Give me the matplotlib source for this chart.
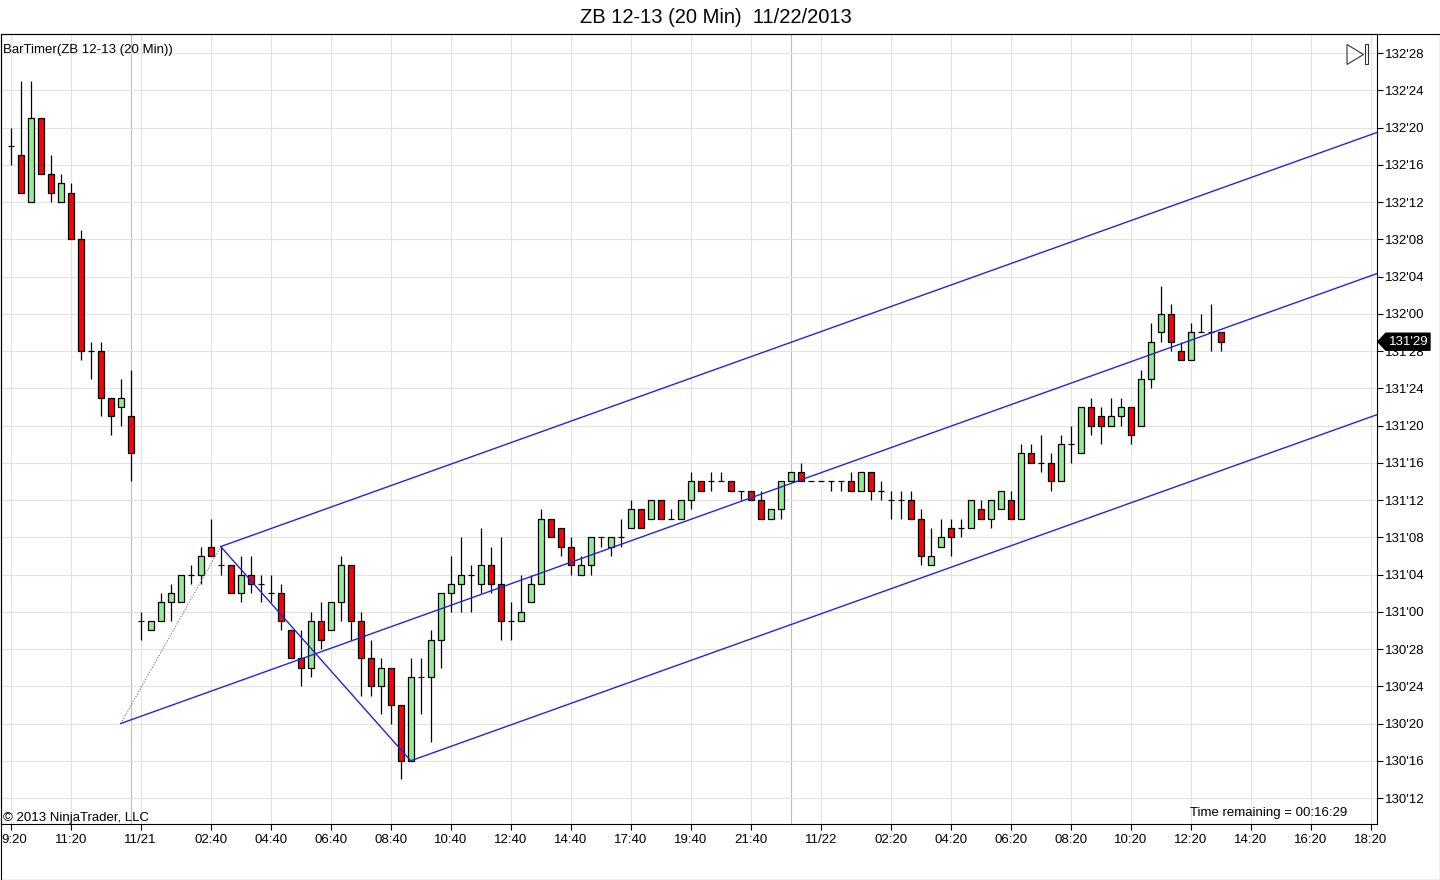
import matplotlib
matplotlib.use('Agg')
import matplotlib.pyplot as plt
from matplotlib.patches import Rectangle, Polygon
from matplotlib.ticker import FixedLocator, FuncFormatter
import matplotlib.transforms as mtrans

plt.rcParams['font.family'] = ['Liberation Sans', 'DejaVu Sans']

# ---------------- data (prices in handle'32nds) ----------------
opens = ["132'18","132'17","132'12","132'21","132'15","132'12","132'13","132'08","131'28","131'28",
 "131'23","131'22","131'21","130'31","130'30","130'31","131'01","131'01","131'04","131'04",
 "131'07","131'05","131'05","131'02","131'04","131'03","131'02","131'02","130'30","130'27",
 "130'26","130'31","130'30","131'01","131'05","130'31","130'27","130'24","130'26","130'22",
 "130'16","130'25","130'25","130'29","131'02","131'03","131'04","131'03","131'05","131'03",
 "130'31","130'31","131'01","131'03","131'10","131'09","131'07","131'04","131'05","131'08",
 "131'07","131'08","131'09","131'11","131'10","131'12","131'10","131'10","131'12","131'14",
 "131'14","131'14","131'14","131'13","131'13","131'12","131'10","131'11","131'14","131'15",
 "131'14","131'14","131'14","131'14","131'14","131'13","131'15","131'13","131'12","131'12",
 "131'12","131'10","131'05","131'07","131'09","131'09","131'09","131'11","131'10","131'11",
 "131'12","131'10","131'17","131'16","131'16","131'14","131'18","131'17","131'22","131'21",
 "131'20","131'21","131'22","131'20","131'25","131'30","132'00","131'28","131'27","131'30",
 "131'30","131'30"]

highs = ["132'20","132'25","132'25","132'21","132'17","132'15","132'14","132'09","131'29","131'29",
 "131'23","131'25","131'26","131'00","130'31","131'02","131'03","131'04","131'05","131'07",
 "131'10","131'07","131'05","131'06","131'06","131'04","131'04","131'03","130'30","130'30",
 "131'00","131'01","131'01","131'06","131'05","131'00","130'29","130'27","130'26","130'22",
 "130'27","130'27","130'30","131'02","131'06","131'08","131'05","131'09","131'07","131'08",
 "131'01","131'04","131'04","131'11","131'10","131'09","131'08","131'06","131'08","131'08",
 "131'08","131'10","131'12","131'11","131'12","131'12","131'11","131'12","131'15","131'14",
 "131'15","131'15","131'14","131'13","131'13","131'13","131'11","131'14","131'15","131'16",
 "131'14","131'14","131'14","131'14","131'15","131'15","131'15","131'14","131'13","131'13",
 "131'13","131'11","131'09","131'10","131'10","131'10","131'12","131'12","131'12","131'13",
 "131'13","131'18","131'18","131'19","131'17","131'19","131'20","131'22","131'23","131'22",
 "131'23","131'23","131'22","131'26","131'31","132'03","132'01","131'29","131'31","132'00",
 "132'01","131'30"]

lows = ["132'16","132'13","132'12","132'15","132'12","132'12","132'08","131'27","131'25","131'21",
 "131'19","131'20","131'14","130'29","130'30","130'31","130'31","131'01","131'03","131'03",
 "131'06","131'04","131'02","131'01","131'02","131'01","131'01","130'30","130'27","130'24",
 "130'25","130'28","130'30","130'31","130'29","130'23","130'23","130'21","130'20","130'14",
 "130'16","130'21","130'18","130'26","131'00","131'00","131'00","131'02","131'02","130'29",
 "130'29","130'31","131'01","131'03","131'08","131'06","131'04","131'04","131'04","131'07",
 "131'06","131'07","131'09","131'09","131'10","131'10","131'10","131'10","131'11","131'13",
 "131'13","131'14","131'13","131'12","131'12","131'10","131'10","131'10","131'14","131'14",
 "131'14","131'14","131'13","131'13","131'13","131'13","131'12","131'12","131'10","131'10",
 "131'10","131'05","131'05","131'07","131'06","131'08","131'09","131'10","131'09","131'11",
 "131'10","131'10","131'16","131'15","131'13","131'14","131'16","131'17","131'19","131'18",
 "131'20","131'20","131'18","131'20","131'24","131'29","131'28","131'27","131'27","131'30",
 "131'28","131'28"]

closes = ["132'18","132'13","132'21","132'15","132'13","132'14","132'08","131'28","131'28","131'23",
 "131'21","131'23","131'17","130'31","130'31","131'01","131'02","131'04","131'04","131'06",
 "131'06","131'05","131'02","131'04","131'03","131'03","131'02","130'31","130'27","130'26",
 "130'31","130'29","131'01","131'05","130'31","130'27","130'24","130'26","130'22","130'16",
 "130'25","130'25","130'29","131'02","131'03","131'04","131'04","131'05","131'03","130'31",
 "130'31","131'00","131'03","131'10","131'08","131'07","131'05","131'05","131'08","131'08",
 "131'08","131'08","131'11","131'09","131'12","131'10","131'10","131'12","131'14","131'13",
 "131'14","131'14","131'13","131'13","131'12","131'10","131'11","131'14","131'15","131'14",
 "131'14","131'14","131'14","131'14","131'13","131'15","131'13","131'13","131'12","131'12",
 "131'10","131'06","131'06","131'08","131'08","131'09","131'12","131'10","131'12","131'13",
 "131'10","131'17","131'16","131'16","131'14","131'18","131'18","131'22","131'20","131'20",
 "131'21","131'22","131'19","131'25","131'29","132'00","131'29","131'27","131'30","131'30",
 "131'30","131'29"]

xtick_bars = [0, 6, 13, 20, 26, 32, 38, 44, 50, 56, 62, 68, 74, 81, 88, 94, 100, 106, 112, 118, 124, 130, 136]
xtick_labels = ["9:20", "11:20", "11/21", "02:40", "04:40", "06:40", "08:40", "10:40", "12:40", "14:40",
                "17:40", "19:40", "21:40", "11/22", "02:20", "04:20", "06:20", "08:20", "10:20", "12:20",
                "14:20", "16:20", "18:20"]
session_break_bars = [12, 78]

ytick_labels = ["130'12", "130'16", "130'20", "130'24", "130'28", "131'00", "131'04", "131'08",
                "131'12", "131'16", "131'20", "131'24", "131'28", "132'00", "132'04", "132'08",
                "132'12", "132'16", "132'20", "132'24", "132'28"]

pitchfork_bars = [11, 21, 40]
pitchfork_prices = ["130'20", "131'07", "130'16"]

title = "ZB 12-13 (20 Min)  11/22/2013"
indicator_label = "BarTimer(ZB 12-13 (20 Min))"
copyright_text = "\u00a9 2013 NinjaTrader, LLC"
timer_text = "Time remaining = 00:16:29"


def p32(s):
    h, t = s.split("'")
    return int(h) + int(t) / 32.0


def fmt32(v, pos=None):
    h = int(v + 1e-9)
    t = int(round((v - h) * 32))
    if t == 32:
        h += 1
        t = 0
    return f"{h}'{t:02d}"


O = [p32(s) for s in opens]
H = [p32(s) for s in highs]
L = [p32(s) for s in lows]
C = [p32(s) for s in closes]

W, HH = 1440, 880
def fx(px): return px / W
def fy(py): return 1 - py / HH

FS = 9.5

fig = plt.figure(figsize=(14.4, 8.8), dpi=100)
ax = fig.add_axes([fx(1), fy(824), 1376 / W, 790 / HH])

XMIN, XMAX = -0.97, 136.63
YMIN, YMAX = 130.2878, 132.9388
ax.set_xlim(XMIN, XMAX)
ax.set_ylim(YMIN, YMAX)

# grid
ax.set_axisbelow(True)
ax.xaxis.set_major_locator(FixedLocator(xtick_bars))
ax.set_xticklabels(xtick_labels)
yt = [p32(s) for s in ytick_labels]
ax.yaxis.set_major_locator(FixedLocator(yt))
ax.yaxis.set_major_formatter(FuncFormatter(fmt32))
ax.grid(True, color='#E3E3E3', lw=0.8, zorder=0)
for b in session_break_bars:
    ax.axvline(b, color='#BDBDBD', lw=0.8, zorder=0.5)

ax.yaxis.tick_right()
ax.tick_params(axis='y', direction='out', length=4, width=0.8, pad=2, labelsize=FS, colors='black')
ax.tick_params(axis='x', direction='out', length=4, width=0.8, pad=3, labelsize=FS, colors='black')
for sp in ax.spines.values():
    sp.set_linewidth(0.8)
    sp.set_color('black')

# first x label sits against the left edge (its leading digit is cut off in the original)
first = ax.get_xticklabels()[0]
first.set_horizontalalignment('left')
first.set_transform(first.get_transform() + mtrans.ScaledTranslation(-9.0 / 100, 0, fig.dpi_scale_trans))

# candles
GREEN = '#90EE90'
RED = '#FF0000'
bw = 0.6
for i, (o, h, l, c) in enumerate(zip(O, H, L, C)):
    ax.vlines(i, l, h, color='black', lw=0.9, zorder=2)
    if abs(o - c) < 1e-9:
        ax.hlines(o, i - bw / 2, i + bw / 2, color='black', lw=0.9, zorder=3)
    else:
        ax.add_patch(Rectangle((i - bw / 2, min(o, c)), bw, abs(c - o),
                               facecolor=GREEN if c > o else RED, edgecolor='black',
                               lw=0.9, zorder=3))

# Andrews pitchfork
pa, pb, pc = [p32(s) for s in pitchfork_prices]
xa, xb, xc = pitchfork_bars
mid_x = (xb + xc) / 2.0
mid_y = (pb + pc) / 2.0
slope = (mid_y - pa) / (mid_x - xa)
BLUE = '#2424DC'
ax.plot([xa, xb], [pa, pb], color='#707070', lw=0.8, ls=(0, (1, 1.5)), zorder=4)
ax.plot([xb, xc], [pb, pc], color=BLUE, lw=1.0, zorder=4)
for x0, y0 in [(xa, pa), (xb, pb), (xc, pc)]:
    ax.plot([x0, XMAX], [y0, y0 + slope * (XMAX - x0)], color=BLUE, lw=1.0, zorder=4)

# texts
fig.text(fx(715.5), fy(17.5), title, ha='center', va='center', fontsize=14.5)
fig.text(fx(3.3), fy(53), indicator_label, ha='left', va='baseline', fontsize=FS)
fig.text(fx(3), fy(821), copyright_text, ha='left', va='baseline', fontsize=FS)
fig.text(fx(1347), fy(816), timer_text, ha='right', va='baseline', fontsize=FS)

# bar-timer icon (top right)
fig.patches.append(Polygon([(fx(1347), fy(44.5)), (fx(1347), fy(64.5)), (fx(1363.5), fy(54.5))],
                           closed=True, fill=False, ec='#333333', lw=0.8, transform=fig.transFigure))
fig.patches.append(Rectangle((fx(1364.5), fy(64.5)), 3 / W, 20 / HH, fill=False, ec='#333333',
                             lw=0.8, transform=fig.transFigure))

# current price tag
last = C[-1]
tr = mtrans.blended_transform_factory(ax.transAxes, ax.transData)
hh = 8.5 / 298.0
x_tip, x_sh, x_end = 1.0006, 1.0064, 1.0385
tag = Polygon([(x_tip, last), (x_sh, last + hh), (x_end, last + hh), (x_end, last - hh), (x_sh, last - hh)],
              closed=True, fc='black', ec='black', transform=tr, clip_on=False, zorder=10)
ax.add_patch(tag)
ax.text((x_sh + x_end) / 2 + 0.0005, last, fmt32(last), transform=tr, color='white', fontsize=FS,
        ha='center', va='center', clip_on=False, zorder=11)

# outer frame
fig.patches.append(Rectangle((fx(0.5), fy(879.5)), 1439 / W, 845.5 / HH, fill=False, ec='black',
                             lw=0.8, transform=fig.transFigure))

fig.savefig('out.png', dpi=100, facecolor='white')
